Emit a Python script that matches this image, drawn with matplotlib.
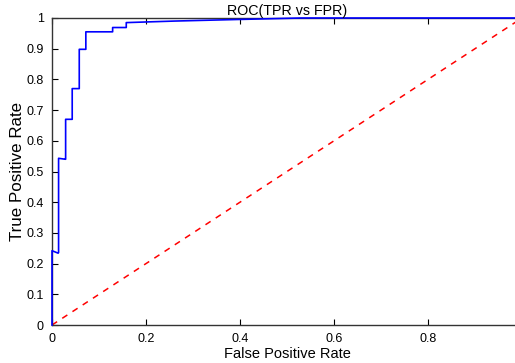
import matplotlib
matplotlib.use("Agg")
import matplotlib.pyplot as plt
from matplotlib.ticker import FuncFormatter

plt.rcParams['font.family'] = ['Liberation Sans', 'DejaVu Sans']

# ROC curve points
fpr = [0.0, 0.0, 0.013, 0.014, 0.014, 0.028, 0.029, 0.029, 0.043, 0.043,
       0.058, 0.058, 0.072, 0.072, 0.129, 0.129, 0.158, 0.158, 0.26, 0.39,
       0.53, 0.99]
tpr = [0.0, 0.242, 0.234, 0.236, 0.543, 0.54, 0.54, 0.67, 0.67, 0.77,
       0.77, 0.898, 0.898, 0.955, 0.955, 0.969, 0.969, 0.985, 0.99, 0.995,
       1.0, 1.0]
diag = [0, 1]
xticks = [0, 0.2, 0.4, 0.6, 0.8]
yticks = [0, 0.1, 0.2, 0.3, 0.4, 0.5, 0.6, 0.7, 0.8, 0.9, 1.0]

fig = plt.figure(figsize=(5.15, 3.63), dpi=100)
# axes run past the right edge, so x=1 and the right spine are cut off
ax = fig.add_axes([52 / 515, 38 / 363, 470 / 515, 307 / 363])

ax.plot(fpr, tpr, color='blue', linewidth=1.2, clip_on=False, zorder=3)
ax.plot(diag, diag, color='red', linestyle='--', linewidth=1.1, dashes=(4, 4))

ax.set_xlim(0, 1)
ax.set_ylim(0, 1)
ax.set_xticks(xticks)
ax.set_yticks(yticks)
fmt = FuncFormatter(lambda v, p: '%g' % round(v, 2))
ax.xaxis.set_major_formatter(fmt)
ax.yaxis.set_major_formatter(fmt)
ax.tick_params(direction='in', length=4, width=0.8, labelsize=9, top=True,
               right=True, colors='black', pad=6)

for s in ax.spines.values():
    s.set_linewidth(1.0)
    s.set_color('#333333')

ax.set_title('ROC(TPR vs FPR)', fontsize=10.3, pad=2)
ax.set_xlabel('False Positive Rate', fontsize=10.5, labelpad=1)
ax.set_ylabel('True Positive Rate', fontsize=12.2, labelpad=1)

fig.savefig('out.png', dpi=100)
